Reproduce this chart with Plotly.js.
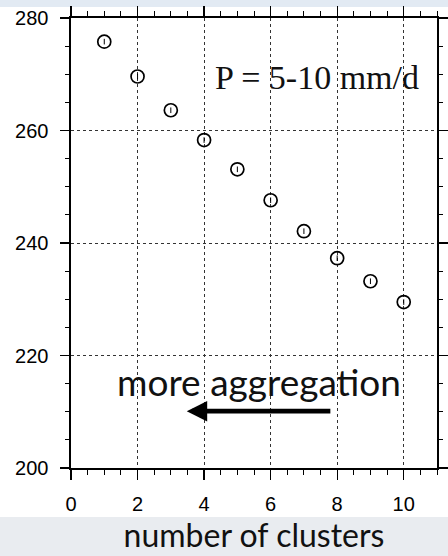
<!DOCTYPE html>
<html>
<head>
<meta charset="utf-8">
<script src="https://cdn.plot.ly/plotly-3.0.1.min.js"></script>
<style>html,body{margin:0;padding:0;background:#fff;}#chart{width:448px;height:556px;}</style>
</head>
<body>
<div id="chart"></div>
<script>
// Data
const clusters = [1, 2, 3, 4, 5, 6, 7, 8, 9, 10];
const values = [275.8, 269.6, 263.6, 258.3, 253.1, 247.6, 242.1, 237.3, 233.2, 229.5];
const xTicks = [0, 2, 4, 6, 8, 10];
const yTicks = [200, 220, 240, 260, 280];
const labelText = 'P = 5-10 mm/d';
const noteText = 'more aggregation';
const xTitle = 'number of clusters';
const arrowFrom = [7.84, 210.1];
const arrowTo = [3.48, 210.1];

const traces = [
  {
    x: clusters, y: values, type: 'scatter', mode: 'markers',
    marker: {symbol: 'circle-open', size: 13, color: '#000', line: {width: 1.7, color: '#000'}},
    hoverinfo: 'x+y', showlegend: false
  },
  {
    x: clusters, y: values, type: 'scatter', mode: 'markers',
    marker: {symbol: 'line-ns-open', size: 4, color: '#000', line: {width: 1, color: '#000'}},
    hoverinfo: 'skip', showlegend: false
  }
];

const axisCommon = {
  showline: true, linecolor: '#000', linewidth: 1.6, mirror: 'ticks',
  ticks: 'outside', tickcolor: '#000', tickwidth: 1.3,
  showgrid: true, gridcolor: '#333', griddash: 'dot', gridwidth: 1,
  zeroline: false,
  tickfont: {family: 'Liberation Sans', size: 20, color: '#000'}
};

const layout = {
  width: 448, height: 556,
  margin: {l: 71, r: 11, t: 18, b: 88},
  paper_bgcolor: '#e2eaf3',
  plot_bgcolor: '#ffffff',
  showlegend: false,
  xaxis: Object.assign({}, axisCommon, {
    range: [0, 11], tickvals: xTicks, ticktext: xTicks.map(String), ticklen: 10,
    ticklabelstandoff: 7,
    minor: {dtick: 0.5, tick0: 0, ticks: 'outside', ticklen: 5, tickcolor: '#000', tickwidth: 1, showgrid: false},
    title: {text: xTitle, font: {family: 'Lato', size: 32, color: '#111'}, standoff: 11}
  }),
  yaxis: Object.assign({}, axisCommon, {
    range: [200, 280], tickvals: yTicks, ticktext: yTicks.map(String), ticklen: 9,
    ticklabelstandoff: 8,
    minor: {dtick: 5, tick0: 200, ticks: 'outside', ticklen: 4, tickcolor: '#000', tickwidth: 1, showgrid: false}
  }),
  shapes: [
    {type: 'rect', xref: 'paper', yref: 'paper', layer: 'below',
     x0: -71/366, x1: 1 + 11/366, y0: -(517-468)/450, y1: 1 + 11/450,
     fillcolor: '#ffffff', line: {width: 0}},
    {type: 'rect', xref: 'paper', yref: 'paper', layer: 'below',
     x0: -71/366, x1: 1 + 11/366, y0: -(556-468)/450, y1: -(517-468)/450,
     fillcolor: '#e9ecf0', line: {width: 0}}
  ],
  annotations: [
    {x: 7.39, y: 269.4, xref: 'x', yref: 'y', text: labelText, showarrow: false,
     xanchor: 'center', yanchor: 'middle',
     font: {family: 'Liberation Serif', size: 34, color: '#111'}},
    {x: 5.64, y: 215.3, xref: 'x', yref: 'y', text: noteText, showarrow: false,
     xanchor: 'center', yanchor: 'middle',
     font: {family: 'Lato', size: 37, color: '#111'}},
    {x: arrowTo[0], y: arrowTo[1], ax: arrowFrom[0], ay: arrowFrom[1],
     xref: 'x', yref: 'y', axref: 'x', ayref: 'y', text: '', showarrow: true,
     arrowhead: 2, arrowsize: 0.85, arrowwidth: 4.8, arrowcolor: '#000', standoff: 0, startstandoff: 0}
  ]
};

Plotly.newPlot('chart', traces, layout, {displayModeBar: false, staticPlot: true});
</script>
</body>
</html>
